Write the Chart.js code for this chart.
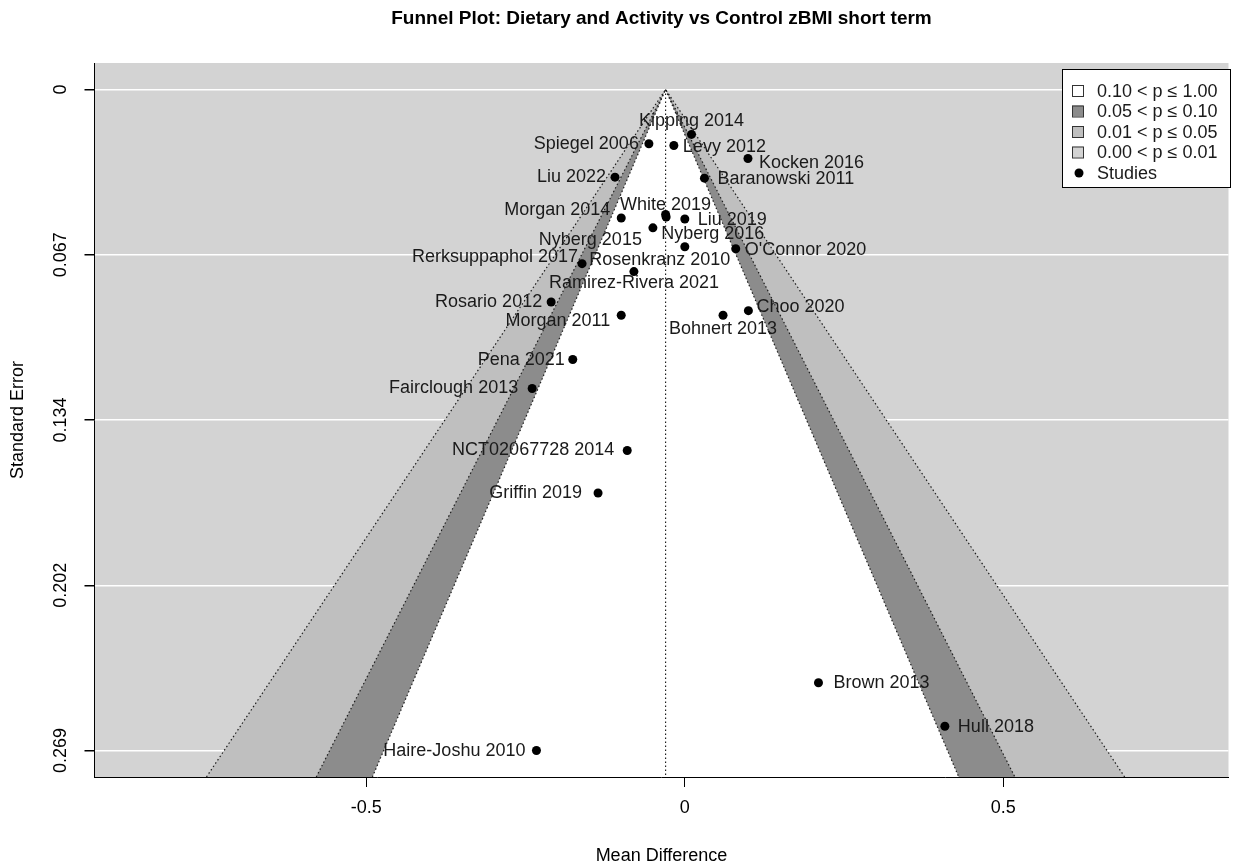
<!DOCTYPE html>
<html>
<head>
<meta charset="utf-8">
<script src="https://cdn.jsdelivr.net/npm/chart.js@4/dist/chart.umd.min.js"></script>
<style>
  body { margin: 0; background: #fff; }
  #wrap { width: 1233px; height: 867px; }
</style>
</head>
<body>
<div id="wrap"><canvas id="funnel" width="1233" height="867"></canvas></div>
<script>
// data
const studies = [
  'Kipping 2014', 'Spiegel 2006', 'Levy 2012', 'Kocken 2016', 'Liu 2022',
  'Baranowski 2011', 'Morgan 2014', 'White 2019', 'Nyberg 2016', 'Liu 2019',
  'Nyberg 2015', 'Rosenkranz 2010', "O'Connor 2020", 'Rerksuppaphol 2017',
  'Ramirez-Rivera 2021', 'Rosario 2012', 'Morgan 2011', 'Bohnert 2013',
  'Choo 2020', 'Pena 2021', 'Fairclough 2013', 'NCT02067728 2014',
  'Griffin 2019', 'Brown 2013', 'Hull 2018', 'Haire-Joshu 2010'
];
const meanDiff = [
  0.0105, -0.0564, -0.0172, 0.0991, -0.1096,
  0.0308, -0.0998, -0.0302, -0.0293, 0.0000,
  -0.0501, 0.0000, 0.0799, -0.1613,
  -0.0799, -0.2098, -0.0998, 0.0600,
  0.0998, -0.1759, -0.2396, -0.0904,
  -0.1362, 0.2098, 0.4082, -0.2329
];
const stdErr = [
  0.0183, 0.0221, 0.0228, 0.0281, 0.0357,
  0.0361, 0.0523, 0.0509, 0.0519, 0.0527,
  0.0563, 0.0640, 0.0648, 0.0709,
  0.0741, 0.0865, 0.0919, 0.0919,
  0.0900, 0.1099, 0.1217, 0.1469,
  0.1642, 0.2414, 0.2591, 0.2690
];
const estimate = -0.0302;
const contourZ = [2.576, 1.96, 1.645];
const xTicks = [-0.5, 0, 0.5];
const yTicks = [0, 0.06725, 0.1345, 0.20175, 0.269];
const yTickLabels = ['0', '0.067', '0.134', '0.202', '0.269'];
const legendLabels = ['0.10 < p \u2264 1.00', '0.05 < p \u2264 0.10', '0.01 < p \u2264 0.05', '0.00 < p \u2264 0.01', 'Studies'];

// styling
const FONT = '"Liberation Sans", Arial, Helvetica, sans-serif';
const backColor = '#d3d3d3';
const contourFill = ['#bfbfbf', '#8c8c8c', '#ffffff'];
const legendFill = ['#ffffff', '#8c8c8c', '#bfbfbf', '#d3d3d3'];
// label placement: [align, dx, dy] in px relative to the point
const labelPlace = [
  ['center', 0, -13], ['right', -10, 0], ['left', 9, 2], ['left', 11, 5], ['right', -9, 0],
  ['left', 13, 1], ['right', -11, -8], ['center', 0, -10], ['left', -5, 17], ['left', 13, 1],
  ['right', -11, 12], ['center', -25, 13], ['left', 9, 1], ['right', -4, -7],
  ['center', 0, 11], ['right', -9, 0], ['right', -11, 6], ['center', 0, 14],
  ['left', 8, -4], ['right', -8, 0], ['right', -14, -1], ['right', -13, 0],
  ['right', -16, 0], ['left', 15, 0], ['left', 13, 1], ['right', -11, 0]
];

const points = meanDiff.map((x, i) => ({ x: x, y: stdErr[i] }));

// gray back + funnel contours
const funnelPlugin = {
  id: 'funnel',
  beforeDraw(chart) {
    const { ctx, chartArea: a } = chart;
    ctx.save();
    ctx.fillStyle = backColor;
    ctx.fillRect(a.left, a.top, a.right - a.left, a.bottom - a.top);
    ctx.restore();
  },
  beforeDatasetsDraw(chart) {
    const { ctx, chartArea: a, scales: { x, y } } = chart;
    const sMax = y.max;
    const ax = x.getPixelForValue(estimate), ay = y.getPixelForValue(0);
    const by = y.getPixelForValue(sMax);
    ctx.save();
    ctx.beginPath();
    ctx.rect(a.left, a.top, a.right - a.left, a.bottom - a.top);
    ctx.clip();
    contourZ.forEach((z, i) => {
      ctx.beginPath();
      ctx.moveTo(ax, ay);
      ctx.lineTo(x.getPixelForValue(estimate - z * sMax), by);
      ctx.lineTo(x.getPixelForValue(estimate + z * sMax), by);
      ctx.closePath();
      ctx.fillStyle = contourFill[i];
      ctx.fill();
    });
    // dotted contour edges and reference line
    ctx.strokeStyle = '#1e1e1e';
    ctx.lineWidth = 1.2;
    ctx.setLineDash([1.5, 2.5]);
    contourZ.forEach(z => {
      ctx.beginPath();
      ctx.moveTo(x.getPixelForValue(estimate - z * sMax), by);
      ctx.lineTo(ax, ay);
      ctx.lineTo(x.getPixelForValue(estimate + z * sMax), by);
      ctx.stroke();
    });
    ctx.beginPath();
    ctx.moveTo(ax, ay);
    ctx.lineTo(ax, by);
    ctx.stroke();
    ctx.restore();
  },
  afterDatasetsDraw(chart) {
    const { ctx } = chart;
    const meta = chart.getDatasetMeta(0);
    ctx.save();
    ctx.font = '18px ' + FONT;
    ctx.fillStyle = '#1a1a1a';
    ctx.textBaseline = 'middle';
    meta.data.forEach((pt, i) => {
      const p = labelPlace[i];
      ctx.textAlign = p[0];
      ctx.fillText(studies[i], pt.x + p[1], pt.y + p[2]);
    });
    ctx.restore();
  },
  afterDraw(chart) {
    const { ctx, chartArea: a, scales: { y } } = chart;
    ctx.save();
    ctx.fillStyle = '#000';
    // title
    ctx.font = 'bold 19px ' + FONT;
    ctx.textAlign = 'center';
    ctx.textBaseline = 'middle';
    ctx.fillText('Funnel Plot: Dietary and Activity vs Control zBMI short term', (a.left + a.right) / 2, 19);
    // x title
    ctx.font = '18px ' + FONT;
    ctx.fillText('Mean Difference', (a.left + a.right) / 2, 856);
    // y tick labels, rotated like base R
    yTicks.forEach((v, i) => {
      ctx.save();
      ctx.translate(61, y.getPixelForValue(v));
      ctx.rotate(-Math.PI / 2);
      ctx.fillText(yTickLabels[i], 0, 0);
      ctx.restore();
    });
    ctx.save();
    ctx.translate(18, (a.top + a.bottom) / 2);
    ctx.rotate(-Math.PI / 2);
    ctx.fillText('Standard Error', 0, 0);
    ctx.restore();

    // legend box
    const lx = 1062, ly = 69, lw = 168, lh = 118;
    ctx.fillStyle = '#fff';
    ctx.fillRect(lx, ly, lw, lh);
    ctx.strokeStyle = '#000';
    ctx.lineWidth = 1;
    ctx.strokeRect(lx + 0.5, ly + 0.5, lw, lh);
    ctx.textAlign = 'left';
    legendLabels.forEach((t, i) => {
      const cy = ly + 22 + i * 20.5;
      if (i < 4) {
        ctx.fillStyle = legendFill[i];
        ctx.fillRect(1072, cy - 6, 11, 11);
        ctx.strokeStyle = '#333';
        ctx.strokeRect(1072.5, cy - 5.5, 11, 11);
      } else {
        ctx.fillStyle = '#000';
        ctx.beginPath();
        ctx.arc(1079, cy, 4.5, 0, Math.PI * 2);
        ctx.fill();
      }
      ctx.fillStyle = '#1a1a1a';
      ctx.fillText(t, 1097, cy + 1);
    });
    ctx.restore();
  }
};

new Chart(document.getElementById('funnel'), {
  type: 'scatter',
  data: {
    datasets: [{
      label: 'Studies',
      data: points,
      pointRadius: 4.5,
      pointHoverRadius: 4.5,
      backgroundColor: '#000',
      borderWidth: 0
    }]
  },
  options: {
    responsive: false,
    animation: false,
    events: [],
    layout: { padding: { top: 63, right: 2, left: 0, bottom: 0 } },
    plugins: { legend: { display: false }, tooltip: { enabled: false } },
    scales: {
      x: {
        type: 'linear',
        min: -0.9266,
        max: 0.8534,
        afterBuildTicks: s => { s.ticks = xTicks.map(v => ({ value: v })); },
        afterFit: s => { s.height = 90; },
        border: { display: true, color: '#000', width: 1 },
        grid: { drawOnChartArea: false, tickLength: 10, tickColor: '#000' },
        ticks: {
          color: '#000',
          padding: 10,
          maxRotation: 0,
          font: { size: 18, family: FONT },
          callback: v => String(v)
        }
      },
      y: {
        type: 'linear',
        reverse: true,
        min: -0.01076,
        max: 0.27976,
        afterBuildTicks: s => { s.ticks = yTicks.map(v => ({ value: v })); },
        afterFit: s => { s.width = 94.5; },
        border: { display: true, color: '#000', width: 1 },
        grid: { color: '#ffffff', lineWidth: 1.5, tickLength: 10, tickColor: '#000' },
        ticks: { display: false }
      }
    }
  },
  plugins: [funnelPlugin]
});
</script>
</body>
</html>
